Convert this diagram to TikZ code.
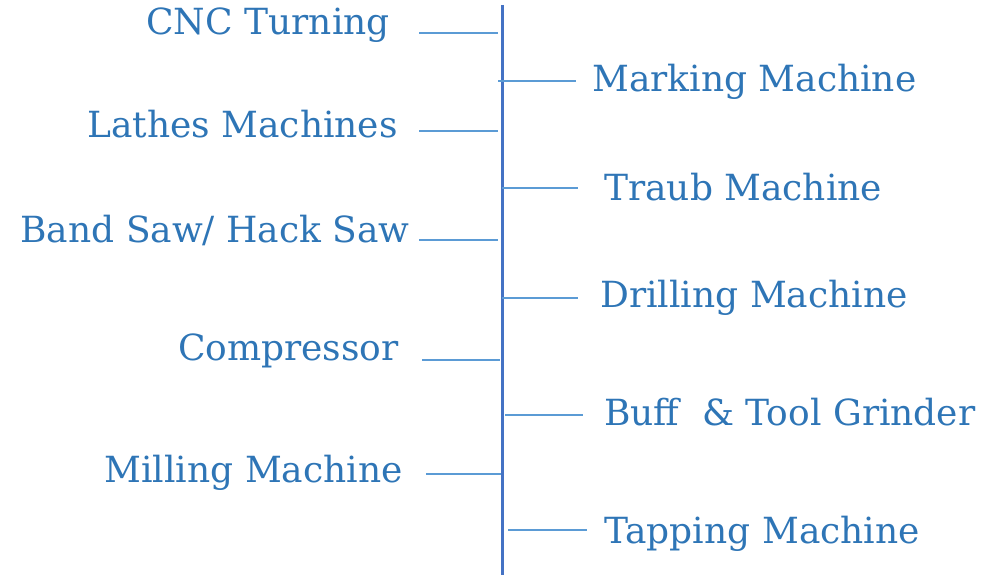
\documentclass[tikz,border=0pt]{standalone}
\usepackage{fontspec}
\setmainfont{DejaVu Serif}
\definecolor{txtblue}{HTML}{2E75B6}
\definecolor{spineblue}{HTML}{4472C4}
\definecolor{tickblue}{HTML}{5B9BD5}
\begin{document}
\begin{tikzpicture}[x=1pt,y=-1pt,
  lbl/.style={inner sep=0pt,text=txtblue,font=\fontsize{36}{40}\selectfont},
  spine/.style={draw=spineblue,line width=3.2pt},
  tick/.style={draw=tickblue,line width=1.1pt}]
\useasboundingbox (0,0) rectangle (983,577);
\coordinate (top) at (502.5,5);
\coordinate (bot) at (502.5,575);
\draw[spine] (top) -- (bot);
% left labels
\node[lbl,anchor=base east] (cnc) at (390,35) {CNC Turning};
\node[lbl,anchor=base east] (lathe) at (398,138) {Lathes Machines};
\node[lbl,anchor=base east] (band) at (410,243) {Band Saw/ Hack Saw};
\node[lbl,anchor=base east] (comp) at (399,360) {Compressor};
\node[lbl,anchor=base east] (mill) at (403,482) {Milling Machine};
% right labels
\node[lbl,anchor=base west] (mark) at (592,92) {Marking Machine};
\node[lbl,anchor=base west] (traub) at (604,201) {Traub Machine};
\node[lbl,anchor=base west] (drill) at (600,308) {Drilling Machine};
\node[lbl,anchor=base west] (buff) at (604,425) {Buff~~\& Tool Grinder};
\node[lbl,anchor=base west] (tap) at (604,543) {Tapping Machine};
% tick ends
\coordinate (a1) at (419,33);  \coordinate (b1) at (498,33);
\coordinate (a2) at (419,131); \coordinate (b2) at (498,131);
\coordinate (a3) at (419,240); \coordinate (b3) at (498,240);
\coordinate (a4) at (422,360); \coordinate (b4) at (500,360);
\coordinate (a5) at (426,474); \coordinate (b5) at (501,474);
\coordinate (c1) at (498,81);  \coordinate (d1) at (576,81);
\coordinate (c2) at (502,188); \coordinate (d2) at (578,188);
\coordinate (c3) at (502,298); \coordinate (d3) at (578,298);
\coordinate (c4) at (505,415); \coordinate (d4) at (583,415);
\coordinate (c5) at (508,530); \coordinate (d5) at (587,530);
\foreach \i in {1,...,5}{
  \draw[tick] (a\i) -- (b\i);
  \draw[tick] (c\i) -- (d\i);
}
\end{tikzpicture}
\end{document}
